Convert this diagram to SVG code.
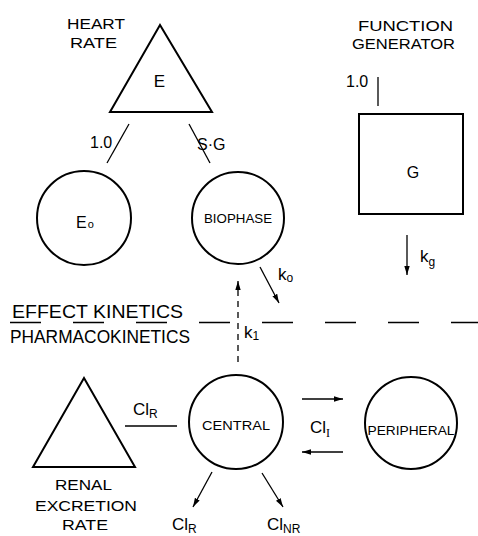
<svg xmlns="http://www.w3.org/2000/svg" width="478" height="536" viewBox="0 0 478 536">
<defs>
<style>
.s{fill:none;stroke:#000;stroke-width:2}
.c{fill:none;stroke:#000;stroke-width:1.3}
.t{font-family:"Liberation Sans",Arial,sans-serif;fill:#000}
.big{font-size:18px}
.stk{font-size:15.5px}
.mid{font-size:16px}
.sm{font-size:13px}
</style>
<marker id="ah" viewBox="0 0 10 10" refX="10" refY="5" markerWidth="9" markerHeight="9" markerUnits="userSpaceOnUse" orient="auto">
<path d="M0,2 L10,5 L0,8 Z" fill="#000"/>
</marker>
</defs>
<rect width="478" height="536" fill="#fff"/>

<g id="heart-rate">
<polygon class="s" points="160,25 110,112 212,112"/>
<text class="t" x="159.5" y="87" font-size="17" text-anchor="middle">E</text>
<text class="t stk" x="67" y="29" textLength="58" lengthAdjust="spacingAndGlyphs">HEART</text>
<text class="t stk" x="70" y="48" textLength="47" lengthAdjust="spacingAndGlyphs">RATE</text>
</g>

<g id="e0">
<circle class="s" cx="84" cy="218" r="47"/>
<text class="t" x="76" y="228" font-size="16">E<tspan font-size="11" dx="1">o</tspan></text>
</g>

<g id="biophase">
<circle class="s" cx="238" cy="218" r="46"/>
<text class="t sm" x="238" y="223" text-anchor="middle" textLength="68" lengthAdjust="spacingAndGlyphs">BIOPHASE</text>
</g>

<g id="function-generator">
<rect class="s" x="359" y="114" width="104" height="100"/>
<text class="t" x="413" y="178" font-size="16" text-anchor="middle">G</text>
<text class="t stk" x="358" y="31" textLength="95" lengthAdjust="spacingAndGlyphs">FUNCTION</text>
<text class="t stk" x="352" y="49" textLength="103" lengthAdjust="spacingAndGlyphs">GENERATOR</text>
</g>

<g id="central">
<circle class="s" cx="236" cy="422" r="47"/>
<text class="t sm" x="236" y="430" text-anchor="middle" textLength="68" lengthAdjust="spacingAndGlyphs">CENTRAL</text>
</g>

<g id="peripheral">
<circle class="s" cx="411" cy="423" r="46"/>
<text class="t sm" x="411" y="435" text-anchor="middle" textLength="87" lengthAdjust="spacingAndGlyphs">PERIPHERAL</text>
</g>

<g id="renal-excretion-rate">
<polygon class="s" points="84,378 33,467 135,467"/>
<text class="t stk" x="55" y="490" textLength="57" lengthAdjust="spacingAndGlyphs">RENAL</text>
<text class="t stk" x="35" y="511" textLength="102" lengthAdjust="spacingAndGlyphs">EXCRETION</text>
<text class="t stk" x="62" y="530" textLength="46" lengthAdjust="spacingAndGlyphs">RATE</text>
</g>

<g id="divider">
<line class="c" x1="10" y1="322.5" x2="478" y2="322.5" stroke-dasharray="31 32"/>
<text class="t big" x="12" y="318" textLength="171" lengthAdjust="spacingAndGlyphs">EFFECT KINETICS</text>
<text class="t big" x="10" y="343" textLength="180" lengthAdjust="spacingAndGlyphs">PHARMACOKINETICS</text>
</g>

<g id="connectors">
<line class="c" x1="129" y1="124" x2="107" y2="163"/>
<text class="t mid" x="90" y="148">1.0</text>
<line class="c" x1="189" y1="124" x2="210" y2="163"/>
<text class="t mid" x="197" y="150">S·G</text>
<line class="c" x1="378" y1="77" x2="378" y2="106"/>
<text class="t mid" x="346" y="87">1.0</text>

<line class="c" x1="407" y1="235" x2="407" y2="275" marker-end="url(#ah)"/>
<text class="t" x="420" y="262" font-size="17">k<tspan font-size="12" dy="4">g</tspan></text>

<line class="c" x1="260" y1="267" x2="279" y2="303" marker-end="url(#ah)"/>
<text class="t" x="278" y="280" font-size="17">k<tspan font-size="12" dy="2">o</tspan></text>

<line class="c" x1="238" y1="362" x2="238" y2="281" stroke-dasharray="6 5" marker-end="url(#ah)"/>
<text class="t" x="244" y="338" font-size="17">k<tspan font-size="12" dy="2">1</tspan></text>

<line class="c" x1="125" y1="426" x2="177" y2="426"/>
<text class="t" x="133" y="415" font-size="17">Cl<tspan font-size="12" dy="3">R</tspan></text>

<line class="c" x1="302" y1="399" x2="343" y2="399" marker-end="url(#ah)"/>
<line class="c" x1="343" y1="452" x2="302" y2="452" marker-end="url(#ah)"/>
<text class="t" x="310" y="433" font-size="17">Cl<tspan font-family="Liberation Serif" font-size="12" dy="4">I</tspan></text>

<line class="c" x1="212" y1="472" x2="193" y2="507" marker-end="url(#ah)"/>
<text class="t" x="172" y="530" font-size="17">Cl<tspan font-size="12" dy="3">R</tspan></text>

<line class="c" x1="262" y1="473" x2="283" y2="507" marker-end="url(#ah)"/>
<text class="t" x="267" y="530" font-size="17">Cl<tspan font-size="12" dy="3">NR</tspan></text>
</g>
</svg>
